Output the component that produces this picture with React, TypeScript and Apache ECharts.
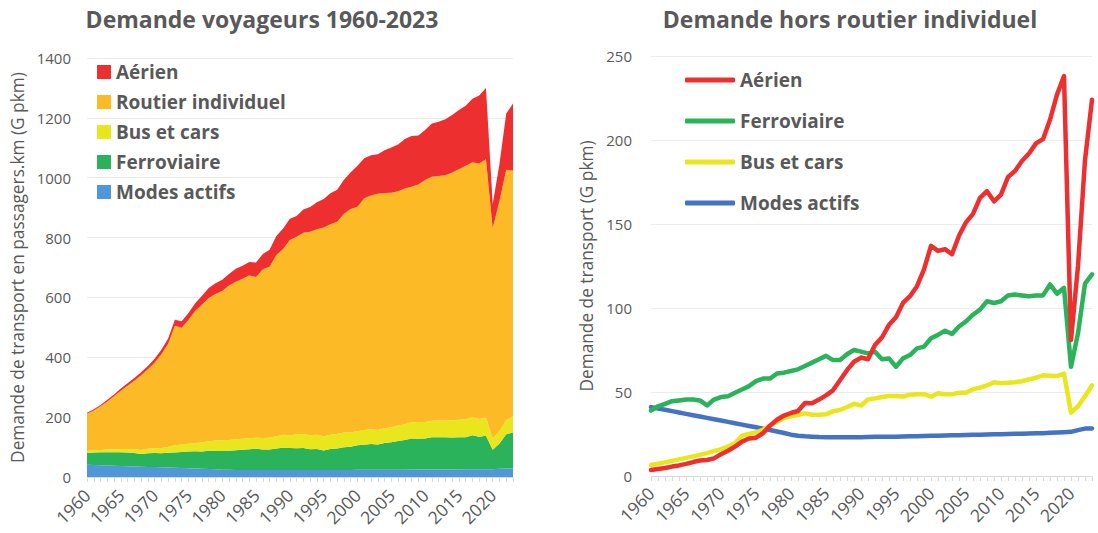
import React, { useEffect, useRef } from "react";
import * as echarts from "echarts";

const years: string[] = Array.from({ length: 64 }, (_, i) => String(1960 + i));

const aerien = [
  3.6, 4.2, 4.8, 5.6, 6.3, 7.2, 8.3, 9.2, 9.5, 10.5,
  13, 15, 17.5, 20.5, 22.3, 22.8, 25.5, 30, 33.5, 36,
  37.5, 38.7, 43.5, 43.3, 45.5, 48, 51, 57, 63, 68,
  70.5, 69.5, 78, 82.5, 90, 94.5, 103, 107, 113, 123,
  137, 134, 135, 132, 143, 151, 156, 165.5, 169.5, 163.5,
  167.5, 178, 181.5, 187.5, 192, 198, 200.5, 212, 227, 238,
  81, 125, 188, 224,
];

const routier = [
  124.5, 133, 145.5, 160, 177, 195, 211.5, 229, 250, 266,
  286, 313, 344.5, 399, 390, 413.5, 441, 460, 478, 490,
  499, 516, 526, 535, 544, 537, 563.5, 571, 605.5, 621,
  653, 661, 672.5, 680, 687, 698, 704, 709, 731.5, 745.5,
  750, 774, 781, 789, 786, 784, 783, 788, 787, 794,
  808, 815, 817, 819, 828, 836.5, 847, 852.5, 854, 863,
  702, 768, 836, 822,
];

const bus = [
  6.5, 7.3, 8.1, 9, 9.9, 10.8, 11.7, 12.6, 13.6, 14.8,
  16, 17.5, 19.5, 24, 25, 26, 27.5, 30, 32.3, 34.5,
  35.5, 36.3, 37.3, 36.5, 36.5, 36.7, 38.5, 39.3, 41, 43,
  42, 45.5, 46.2, 47, 47.6, 47.6, 47.3, 48.4, 48.6, 48.8,
  47.2, 49.2, 48.6, 48.6, 49.6, 49.6, 51.6, 52.6, 54, 55.8,
  55.2, 55.5, 55.8, 56.4, 57.5, 58.5, 59.9, 59.7, 59.5, 61,
  37.7, 41.5, 47.5, 54,
];

const ferro = [
  39, 41.5, 43, 44.5, 45, 45.5, 45.5, 45, 42, 45.5,
  47, 47.5, 49.5, 51.5, 53.5, 56.5, 58, 58, 61, 61.5,
  62.5, 63.5, 65.5, 67.5, 69.5, 71.5, 69, 69, 72.5, 75,
  74, 73, 74, 69.5, 70, 65, 70, 72, 76, 77,
  82, 84, 86.5, 84.5, 89, 92, 96, 99, 104, 103,
  104, 107.5, 108, 107.5, 107, 107.5, 107.5, 114, 108.5, 112,
  65, 85, 114.5, 120,
];

const actifs = [
  41, 40.2, 39.4, 38.6, 37.8, 37, 36.2, 35.4, 34.6, 33.8,
  33, 32.2, 31.4, 30.6, 29.8, 29, 28.2, 27.4, 26.5, 25.6,
  24.6, 24, 23.6, 23.4, 23.2, 23.1, 23, 23, 23, 23,
  23.1, 23.2, 23.3, 23.3, 23.4, 23.4, 23.5, 23.6, 23.7, 23.8,
  23.9, 24, 24.1, 24.2, 24.3, 24.4, 24.5, 24.6, 24.7, 24.8,
  24.9, 25, 25.1, 25.2, 25.3, 25.4, 25.5, 25.7, 25.9, 26.1,
  26.3, 27.3, 28.2, 28.3,
];

const leftTicks = [0, 200, 400, 600, 800, 1000, 1200, 1400];
const rightTicks = [0, 50, 100, 150, 200, 250];

const FONT = "Open Sans";
const TXT = "#595959";
const C = {
  red: "#EE2F2F",
  orange: "#FDBA27",
  yellow: "#E9E61E",
  green: "#2BB35B",
  blueArea: "#4F97D9",
  blueLine: "#4472C4",
};

function xAxisCfg(margin: number) {
  return {
    type: "category",
    data: years,
    boundaryGap: false,
    axisLine: { show: true, lineStyle: { color: "#D9D9D9", width: 1 } },
    axisTick: { show: true, interval: 0, length: 5, lineStyle: { color: "#D9D9D9" } },
    axisLabel: {
      interval: 4,
      rotate: 45,
      margin,
      fontFamily: FONT,
      fontSize: 17.5,
      color: TXT,
    },
    splitLine: { show: false },
  };
}

function yAxisCfg(ticks: number[], name: string, nameGap: number, margin: number) {
  return {
    type: "value",
    min: ticks[0],
    max: ticks[ticks.length - 1],
    interval: ticks[1] - ticks[0],
    name,
    nameLocation: "middle",
    nameGap,
    nameTextStyle: { fontFamily: FONT, fontSize: 17.3, color: TXT },
    axisLine: { show: false },
    axisTick: { show: false },
    axisLabel: {
      fontFamily: FONT,
      fontSize: 15,
      color: TXT,
      margin,
      formatter: (v: number) => String(v),
    },
    splitLine: { lineStyle: { color: "#ECECEC", width: 1 } },
  };
}

const titleStyle = { fontFamily: FONT, fontSize: 23, fontWeight: "bold", color: TXT };
const legendText = { fontFamily: FONT, fontSize: 19, fontWeight: "bold", color: TXT, lineHeight: 20 };

function areaSeries(name: string, data: number[], color: string) {
  return {
    name,
    type: "line",
    stack: "total",
    data,
    symbol: "none",
    showSymbol: false,
    lineStyle: { width: 0, color },
    itemStyle: { color },
    areaStyle: { color, opacity: 1 },
  };
}

function lineSeries(name: string, data: number[], color: string) {
  return {
    name,
    type: "line",
    data,
    symbol: "none",
    showSymbol: false,
    lineStyle: { width: 4.5, color, cap: "round", join: "round" },
    itemStyle: { color },
  };
}

const leftOption = {
  animation: false,
  backgroundColor: "#ffffff",
  title: {
    text: "Demande voyageurs 1960-2023",
    left: 262,
    top: 7,
    padding: 0,
    textAlign: "center",
    textStyle: titleStyle,
  },
  legend: {
    orient: "vertical",
    left: 97,
    top: 62,
    padding: 0,
    itemWidth: 14,
    itemHeight: 14,
    itemGap: 10,
    icon: "rect",
    textStyle: legendText,
    data: [
      { name: "Aérien", itemStyle: { color: C.red } },
      { name: "Routier individuel", itemStyle: { color: C.orange } },
      { name: "Bus et cars", itemStyle: { color: C.yellow } },
      { name: "Ferroviaire", itemStyle: { color: C.green } },
      { name: "Modes actifs", itemStyle: { color: C.blueArea } },
    ],
  },
  grid: { left: 87, top: 58, width: 426, height: 419 },
  xAxis: xAxisCfg(15),
  yAxis: yAxisCfg(leftTicks, "Demande de transport en passagers.km (G pkm)", 59, 16),
  series: [
    areaSeries("Modes actifs", actifs, C.blueArea),
    areaSeries("Ferroviaire", ferro, C.green),
    areaSeries("Bus et cars", bus, C.yellow),
    areaSeries("Routier individuel", routier, C.orange),
    areaSeries("Aérien", aerien, C.red),
  ],
};

const rightOption = {
  animation: false,
  backgroundColor: "#ffffff",
  title: {
    text: "Demande hors routier individuel",
    left: 301,
    top: 7,
    padding: 0,
    textAlign: "center",
    textStyle: titleStyle,
  },
  legend: {
    orient: "vertical",
    left: 136,
    top: 70,
    padding: 0,
    itemWidth: 50,
    itemHeight: 5,
    itemGap: 21,
    icon: "roundRect",
    textStyle: legendText,
    data: [
      { name: "Aérien", itemStyle: { color: C.red } },
      { name: "Ferroviaire", itemStyle: { color: C.green } },
      { name: "Bus et cars", itemStyle: { color: C.yellow } },
      { name: "Modes actifs", itemStyle: { color: C.blueLine } },
    ],
  },
  grid: { left: 102, top: 56, width: 441, height: 420 },
  xAxis: xAxisCfg(14),
  yAxis: yAxisCfg(rightTicks, "Demande de transport (G pkm)", 47, 19),
  series: [
    lineSeries("Modes actifs", actifs, C.blueLine),
    lineSeries("Bus et cars", bus, C.yellow),
    lineSeries("Ferroviaire", ferro, C.green),
    lineSeries("Aérien", aerien, C.red),
  ],
};

export default function App() {
  const leftRef = useRef<HTMLDivElement>(null);
  const rightRef = useRef<HTMLDivElement>(null);

  useEffect(() => {
    document.body.style.margin = "0";
    const l = echarts.init(leftRef.current as HTMLDivElement, null, { renderer: "svg" });
    const r = echarts.init(rightRef.current as HTMLDivElement, null, { renderer: "svg" });
    l.setOption(leftOption as any);
    r.setOption(rightOption as any);
    return () => {
      l.dispose();
      r.dispose();
    };
  }, []);

  return (
    <div style={{ display: "flex", width: 1098, height: 533, background: "#ffffff" }}>
      <div ref={leftRef} style={{ width: 549, height: 533 }} />
      <div ref={rightRef} style={{ width: 549, height: 533 }} />
    </div>
  );
}
